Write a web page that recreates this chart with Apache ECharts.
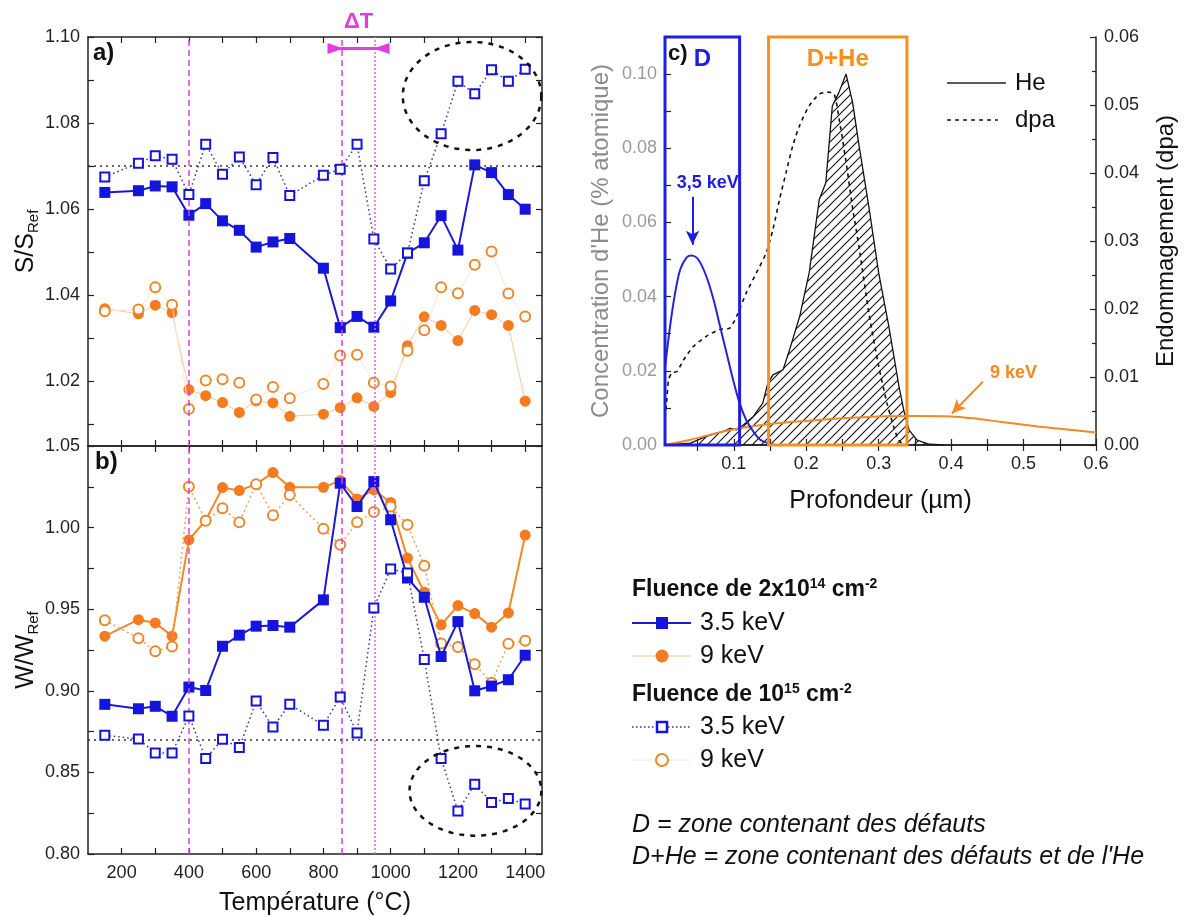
<!DOCTYPE html>
<html><head><meta charset="utf-8">
<script src="https://cdn.jsdelivr.net/npm/echarts@6/dist/echarts.min.js"></script>
<style>html,body{margin:0;padding:0;background:#fff;}#c{width:1189px;height:917px;}</style>
</head><body><div id="c"></div>
<script>
// ---------- Panels a) and b) : temperatures ----------
const temps = [150,250,300,350,400,450,500,550,600,650,700,800,850,900,950,1000,1050,1100,1150,1200,1250,1300,1350,1400];
// S/S_Ref
const sF35 = [1.0639,1.0643,1.0654,1.0652,1.0586,1.0613,1.0573,1.0551,1.0512,1.0524,1.0532,1.0463,1.0325,1.0351,1.0326,1.0387,1.0498,1.0522,1.0585,1.0505,1.0703,1.0685,1.0634,1.0600];
const sO35 = [1.0675,1.0707,1.0724,1.0716,1.0634,1.0751,1.0681,1.0721,1.0657,1.0720,1.0632,1.0679,1.0693,1.0751,1.0531,1.0461,1.0498,1.0666,1.0775,1.0897,1.0868,1.0924,1.0897,1.0925];
const sF9  = [1.0369,1.0357,1.0377,1.0360,1.0181,1.0167,1.0151,1.0128,1.0155,1.0150,1.0119,1.0124,1.0139,1.0162,1.0142,1.0174,1.0283,1.0350,1.0330,1.0295,1.0365,1.0355,1.0330,1.0154];
const sO9  = [1.0363,1.0367,1.0419,1.0378,1.0136,1.0202,1.0205,1.0197,1.0158,1.0187,1.0161,1.0194,1.0260,1.0262,1.0197,1.0188,1.0271,1.0319,1.0419,1.0405,1.0471,1.0502,1.0404,1.0351];
// W/W_Ref
const wF35 = [0.8917,0.8890,0.8905,0.8844,0.9023,0.9002,0.9273,0.9341,0.9396,0.9400,0.9390,0.9557,1.0272,1.0129,1.0282,1.0048,0.9691,0.9573,0.9210,0.9424,0.9000,0.9029,0.9068,0.9218];
const wO35 = [0.8727,0.8705,0.8619,0.8619,0.8846,0.8585,0.8703,0.8652,0.8937,0.8778,0.8917,0.8789,0.8962,0.8742,0.9508,0.9746,0.9722,0.9192,0.8585,0.8263,0.8428,0.8316,0.8340,0.8306];
const wF9  = [0.9335,0.9436,0.9416,0.9335,0.9925,1.0045,1.0245,1.0227,1.0266,1.0337,1.0247,1.0247,1.0288,1.0176,1.0231,1.0154,0.9813,0.9604,0.9404,0.9522,0.9473,0.9390,0.9477,0.9954];
const wO9  = [0.9432,0.9322,0.9243,0.9271,1.0251,1.0042,1.0119,1.0033,1.0266,1.0076,1.0200,0.9993,0.9895,1.0033,1.0095,1.0129,1.0017,0.9767,0.9290,0.9269,0.9163,0.9049,0.9288,0.9306];
const sRef = 1.07, wRef = 0.868;
const vLines = [400, 855, 953];
const deltaT = [836, 973, 1.0973];
const ellipseA = [1242, 1.0863, 206, 0.01255];
const ellipseB = [1252, 0.8387, 196, 0.0275];
const tickT  = [200,300,400,500,600,700,800,900,1000,1100,1200,1300,1400];
const labelT = [200,400,600,800,1000,1200,1400];
const labelS = [1.02,1.04,1.06,1.08,1.10];
const tickS  = [1.01,1.02,1.03,1.04,1.05,1.06,1.07,1.08,1.09,1.10];

// ---------- Panel c) : depth profiles ----------
const he35Depth = [0.005,0.012,0.019,0.026,0.035,0.042,0.051,0.062,0.072,0.081,0.090,0.099,0.108,0.117,0.127,0.136,0.147,0.158,0.170];
const he35Conc  = [0.0207,0.032,0.041,0.0473,0.0506,0.0511,0.050,0.0455,0.0392,0.032,0.0248,0.0176,0.0113,0.0068,0.0036,0.0015,0.0005,0.0,0.0];
const he9Depth = [0.005,0.040,0.076,0.108,0.147,0.200,0.250,0.300,0.350,0.400,0.430,0.470,0.520,0.560,0.600];
const he9Conc  = [0.0,0.0014,0.0032,0.0045,0.0056,0.0065,0.0072,0.0077,0.0078,0.0077,0.0072,0.0062,0.0050,0.0042,0.0034];
const heDepth = [0.005,0.040,0.062,0.076,0.085,0.095,0.104,0.113,0.127,0.140,0.147,0.154,0.168,0.177,0.191,0.204,0.218,0.227,0.236,0.245,0.255,0.264,0.273,0.287,0.300,0.314,0.328,0.335,0.342,0.353,0.370,0.390];
const heConc  = [0.0,0.0005,0.0023,0.0032,0.0036,0.0045,0.0041,0.0054,0.0077,0.0113,0.0167,0.0189,0.0203,0.0257,0.0347,0.0464,0.0662,0.0707,0.0914,0.0950,0.1000,0.0923,0.0806,0.0635,0.0464,0.0320,0.0158,0.0090,0.0040,0.0013,0.0002,0.0];
const dpaDepth = [0.005,0.0068,0.010,0.0146,0.0214,0.0306,0.0443,0.0625,0.0808,0.0945,0.1037,0.1174,0.1311,0.1448,0.154,0.1631,0.1722,0.1814,0.1905,0.2042,0.218,0.2294,0.2385,0.2454,0.2545,0.2636,0.2727,0.2865,0.3002,0.3116,0.3207,0.3276,0.335];
const dpaVal   = [0.004,0.0057,0.0096,0.0106,0.0108,0.0125,0.0145,0.016,0.017,0.0172,0.0189,0.0224,0.0253,0.0283,0.0317,0.0361,0.0401,0.044,0.0469,0.0499,0.0516,0.0519,0.0516,0.0479,0.042,0.0351,0.0292,0.0194,0.0115,0.0061,0.0027,0.0007,0.0];
const boxD = [0.005, 0.108];
const boxDHe = [0.148, 0.339];
const labelDepth = [0.1,0.2,0.3,0.4,0.5,0.6];
const tickDepth = [0.05,0.1,0.15,0.2,0.25,0.3,0.35,0.4,0.45,0.5,0.55,0.6];
const labelConc = [0,0.02,0.04,0.06,0.08,0.10];
const tickConc = [0.01,0.02,0.03,0.04,0.05,0.06,0.07,0.08,0.09,0.10];

const FONT = "'Liberation Sans', Arial, sans-serif";
const BLUE = '#1414dc', ORANGE = '#f47b20', MAG = '#e03ce0';
const pairs = (xs, ys) => xs.map((x, i) => [x, ys[i]]);

// hatch pattern
const pc = document.createElement('canvas');
pc.width = 9; pc.height = 9;
const g = pc.getContext('2d');
g.strokeStyle = '#111'; g.lineWidth = 1.1;
g.beginPath(); g.moveTo(0, 9); g.lineTo(9, 0); g.moveTo(-1, 1); g.lineTo(1, -1); g.moveTo(8, 10); g.lineTo(10, 8); g.stroke();

const axLine = {show: true, lineStyle: {color: '#222', width: 1.5}};
const tickSt = {color: '#222', width: 1.2};
function xTA(grid, pos, extra) {
  return Object.assign({gridIndex: grid, type: 'value', position: pos, min: 100, max: 1450,
    axisLine: axLine, splitLine: {show: false},
    axisTick: {inside: true, length: 6, customValues: tickT, lineStyle: tickSt},
    axisLabel: {show: false}}, extra || {});
}
function ellipseRender(params, api) {
  const c = api.coord([api.value(0), api.value(1)]);
  const s = api.size([api.value(2), api.value(3)]);
  const pts = [];
  for (let k = 0; k <= 90; k++) { const a = k / 90 * 2 * Math.PI; pts.push([c[0] + s[0] * Math.cos(a), c[1] + s[1] * Math.sin(a)]); }
  return {type: 'polyline', shape: {points: pts}, style: {stroke: '#111', lineWidth: 2.5, lineDash: [5, 6], fill: null}};
}
const inward = 'path://M0,0 L10,0 L5,16 Z';
function vMarks(refY, withDT) {
  const d = [
    {xAxis: vLines[0], lineStyle: {color: MAG, type: [6, 4], width: 1.5}},
    {xAxis: vLines[1], lineStyle: {color: MAG, type: [6, 4], width: 1.5}},
    {xAxis: vLines[2], lineStyle: {color: '#ee5cee', type: [2, 2], width: 1.5}},
    {yAxis: refY, lineStyle: {color: '#333', type: [2, 4], width: 1.5}}
  ];
  if (withDT) d.push([
    {coord: [deltaT[0], deltaT[2]], symbol: inward, symbolSize: [11, 16],
     lineStyle: {color: MAG, width: 3, type: 'solid'},
     label: {show: true, position: 'middle', formatter: 'ΔT', color: MAG, fontSize: 22, fontWeight: 'bold', fontFamily: FONT, distance: 16}},
    {coord: [deltaT[1], deltaT[2]], symbol: inward, symbolSize: [11, 16]}
  ]);
  return {silent: true, symbol: 'none', label: {show: false}, animation: false, data: d};
}
function fourSeries(xi, yi, f35, o35, f9, o9, panelB, refY, ell) {
  return [
    {type: 'line', xAxisIndex: xi, yAxisIndex: yi, data: pairs(temps, f9), z: 2,
     symbol: 'circle', symbolSize: 11, showAllSymbol: true,
     lineStyle: panelB ? {color: '#f08a28', width: 2} : {color: '#f7c89a', width: 1},
     itemStyle: {color: ORANGE}},
    {type: 'line', xAxisIndex: xi, yAxisIndex: yi, data: pairs(temps, o9), z: 3,
     symbol: 'emptyCircle', symbolSize: 10, showAllSymbol: true,
     lineStyle: panelB ? {color: '#eba263', width: 1.5, type: [2, 3]} : {color: '#fbe6d2', width: 1},
     itemStyle: {color: '#e8892c', borderWidth: 1.8}},
    {type: 'line', xAxisIndex: xi, yAxisIndex: yi, data: pairs(temps, f35), z: 4,
     symbol: 'rect', symbolSize: 11, showAllSymbol: true,
     lineStyle: {color: '#1a1ad0', width: 2}, itemStyle: {color: BLUE},
     markLine: vMarks(refY, !panelB)},
    {type: 'line', xAxisIndex: xi, yAxisIndex: yi, data: pairs(temps, o35), z: 5,
     symbol: 'emptyRect', symbolSize: 9, showAllSymbol: true,
     lineStyle: {color: '#33339a', width: 1.5, type: [1.5, 3]},
     itemStyle: {color: BLUE, borderWidth: 2}},
    {type: 'custom', xAxisIndex: xi, yAxisIndex: yi, coordinateSystem: 'cartesian2d', silent: true, z: 6,
     data: [ell], renderItem: ellipseRender}
  ];
}

const chart = echarts.init(document.getElementById('c'), null, {renderer: 'canvas'});
const nameStyle = {fontSize: 25, color: '#111', fontFamily: FONT, lineHeight: 30,
  rich: {sub: {fontSize: 15, lineHeight: 15, verticalAlign: 'bottom', fontFamily: FONT, color: '#111'}}};
const labSt = {fontSize: 18, color: '#222', fontFamily: FONT};

const option = {
  animation: false,
  backgroundColor: '#fff',
  textStyle: {fontFamily: FONT},
  grid: [
    {left: 88, top: 37, width: 454, height: 409},
    {left: 88, top: 446, width: 454, height: 409},
    {left: 665, top: 37, width: 431, height: 408}
  ],
  xAxis: [
    xTA(0, 'bottom'),
    xTA(0, 'top'),
    xTA(1, 'bottom', {axisLabel: Object.assign({show: true, customValues: labelT, margin: 10, formatter: v => String(v)}, labSt),
      name: 'Température (°C)', nameLocation: 'middle', nameGap: 37, nameTextStyle: {fontSize: 25, color: '#111', fontFamily: FONT}}),
    xTA(1, 'top'),
    {gridIndex: 2, type: 'value', position: 'bottom', min: 0.005, max: 0.6, axisLine: axLine, splitLine: {show: false},
     axisTick: {inside: true, length: 6, customValues: tickDepth, lineStyle: tickSt},
     axisLabel: Object.assign({customValues: labelDepth, margin: 10, formatter: v => v.toFixed(1)}, labSt),
     name: 'Profondeur (µm)', nameLocation: 'middle', nameGap: 44, nameTextStyle: {fontSize: 25, color: '#111', fontFamily: FONT}},
    {gridIndex: 2, type: 'value', position: 'top', min: 0.005, max: 0.6, axisLine: axLine, splitLine: {show: false},
     axisTick: {inside: true, length: 6, customValues: tickDepth, lineStyle: tickSt}, axisLabel: {show: false}}
  ],
  yAxis: [
    {gridIndex: 0, type: 'value', position: 'left', min: 1.005, max: 1.10, axisLine: axLine, splitLine: {show: false},
     axisTick: {inside: true, length: 6, customValues: tickS, lineStyle: tickSt},
     axisLabel: Object.assign({customValues: labelS, margin: 8, formatter: v => v.toFixed(2)}, labSt),
     name: 'S/S{sub|Ref}', nameLocation: 'middle', nameGap: 46, nameTextStyle: nameStyle},
    {gridIndex: 0, type: 'value', position: 'right', min: 1.005, max: 1.10, axisLine: axLine, splitLine: {show: false},
     axisTick: {inside: true, length: 6, customValues: tickS, lineStyle: tickSt}, axisLabel: {show: false}},
    {gridIndex: 1, type: 'value', position: 'left', min: 0.80, max: 1.05, interval: 0.05, axisLine: axLine, splitLine: {show: false},
     axisTick: {inside: true, length: 6, lineStyle: tickSt}, minorTick: {show: true, splitNumber: 2, length: 6, lineStyle: tickSt},
     axisLabel: Object.assign({margin: 8, formatter: v => v.toFixed(2)}, labSt),
     name: 'W/W{sub|Ref}', nameLocation: 'middle', nameGap: 46, nameTextStyle: nameStyle},
    {gridIndex: 1, type: 'value', position: 'right', min: 0.80, max: 1.05, interval: 0.05, axisLine: axLine, splitLine: {show: false},
     axisTick: {inside: true, length: 6, lineStyle: tickSt}, minorTick: {show: true, splitNumber: 2, length: 6, lineStyle: tickSt},
     axisLabel: {show: false}},
    {gridIndex: 2, type: 'value', position: 'left', min: 0, max: 0.11, axisLine: axLine, splitLine: {show: false},
     axisTick: {inside: true, length: 6, customValues: tickConc, lineStyle: tickSt},
     axisLabel: {customValues: labelConc, margin: 8, formatter: v => v.toFixed(2), fontSize: 18, color: '#9a9a9a', fontFamily: FONT},
     name: "Concentration d'He (% atomique)", nameLocation: 'middle', nameGap: 52,
     nameTextStyle: {fontSize: 24, color: '#8c8c8c', fontFamily: FONT}},
    {gridIndex: 2, type: 'value', position: 'right', min: 0, max: 0.06, interval: 0.01, axisLine: axLine, splitLine: {show: false},
     axisTick: {inside: true, length: 6, lineStyle: tickSt}, minorTick: {show: true, splitNumber: 2, length: 4, lineStyle: tickSt},
     axisLabel: Object.assign({margin: 8, formatter: v => v.toFixed(2)}, labSt),
     name: 'Endommagement (dpa)', nameLocation: 'middle', nameGap: 58,
     nameTextStyle: {fontSize: 24, color: '#111', fontFamily: FONT}}
  ],
  series: [].concat(
    fourSeries(0, 0, sF35, sO35, sF9, sO9, false, sRef, ellipseA),
    fourSeries(2, 2, wF35, wO35, wF9, wO9, true, wRef, ellipseB),
    [
      {type: 'line', xAxisIndex: 4, yAxisIndex: 4, data: pairs(heDepth, heConc), z: 2, symbol: 'none',
       lineStyle: {color: '#111', width: 1.3}, areaStyle: {color: {image: pc, repeat: 'repeat'}, opacity: 1}},
      {type: 'line', xAxisIndex: 4, yAxisIndex: 5, data: pairs(dpaDepth, dpaVal), z: 3, symbol: 'none', smooth: 0.25,
       lineStyle: {color: '#111', width: 1.6, type: [4, 4]}},
      {type: 'line', xAxisIndex: 4, yAxisIndex: 4, data: pairs(he9Depth, he9Conc), z: 4, symbol: 'none', smooth: 0.3,
       lineStyle: {color: '#f08a24', width: 2}},
      {type: 'line', xAxisIndex: 4, yAxisIndex: 4, data: pairs(he35Depth, he35Conc), z: 6, symbol: 'none', smooth: 0.3,
       lineStyle: {color: '#2424d8', width: 2},
       markArea: {silent: true, z: 10, data: [
         [{name: 'D', xAxis: boxD[0], yAxis: 0, itemStyle: {color: 'rgba(0,0,0,0)', borderColor: '#1e1ee0', borderWidth: 3},
           label: {show: true, position: 'insideTop', distance: 12, color: '#1e1ee0', fontSize: 24, fontWeight: 'bold', fontFamily: FONT}},
          {xAxis: boxD[1], yAxis: 0.11}],
         [{name: 'D+He', xAxis: boxDHe[0], yAxis: 0, itemStyle: {color: 'rgba(0,0,0,0)', borderColor: '#f7901e', borderWidth: 3},
           label: {show: true, position: 'insideTop', distance: 12, color: '#f7901e', fontSize: 24, fontWeight: 'bold', fontFamily: FONT}},
          {xAxis: boxDHe[1], yAxis: 0.11}]
       ]},
       markLine: {silent: true, symbol: ['none', 'arrow'], symbolSize: [10, 14], label: {show: false}, data: [
         [{coord: [0.043, 0.0669], lineStyle: {color: '#1e1ee0', width: 2, type: 'solid'}}, {coord: [0.043, 0.0540]}],
         [{coord: [0.444, 0.0171], lineStyle: {color: '#f08a24', width: 2, type: 'solid'}}, {coord: [0.401, 0.0085]}]
       ]},
       markPoint: {silent: true, symbol: 'circle', symbolSize: 0, data: [
         {name: '3,5 keV', coord: [0.064, 0.0705], label: {show: true, position: 'inside', formatter: '{b}', color: '#1e1ee0', fontSize: 18, fontWeight: 'bold', fontFamily: FONT}},
         {name: '9 keV', coord: [0.486, 0.0193], label: {show: true, position: 'inside', formatter: '{b}', color: '#f08a24', fontSize: 18, fontWeight: 'bold', fontFamily: FONT}}
       ]}}
    ]
  ),
  graphic: [
    {type: 'text', x: 93, y: 53, style: {text: 'a)', font: 'bold 24px ' + FONT, fill: '#111', verticalAlign: 'middle'}},
    {type: 'text', x: 95, y: 462, style: {text: 'b)', font: 'bold 24px ' + FONT, fill: '#111', verticalAlign: 'middle'}},
    {type: 'text', x: 668, y: 54, style: {text: 'c)', font: 'bold 22px ' + FONT, fill: '#111', verticalAlign: 'middle'}},
    // He / dpa legend
    {type: 'line', shape: {x1: 947, y1: 83, x2: 1006, y2: 83}, style: {stroke: '#222', lineWidth: 1.6}},
    {type: 'text', x: 1015, y: 83, style: {text: 'He', font: '24px ' + FONT, fill: '#111', verticalAlign: 'middle'}},
    {type: 'line', shape: {x1: 947, y1: 120, x2: 998, y2: 120}, style: {stroke: '#222', lineWidth: 1.6, lineDash: [4, 4]}},
    {type: 'text', x: 1015, y: 120, style: {text: 'dpa', font: '24px ' + FONT, fill: '#111', verticalAlign: 'middle'}},
    // Fluence legend
    {type: 'text', x: 632, y: 590, style: {text: 'Fluence de 2x10{sup|14} cm{sup|-2}', font: 'bold 23px ' + FONT, fill: '#111', verticalAlign: 'middle', lineHeight: 26,
      rich: {sup: {font: 'bold 14px ' + FONT, fill: '#111', lineHeight: 13, verticalAlign: 'top'}}}},
    {type: 'line', shape: {x1: 632, y1: 623, x2: 691, y2: 623}, style: {stroke: '#1a1ad0', lineWidth: 2}},
    {type: 'rect', shape: {x: 656, y: 617, width: 12, height: 12}, style: {fill: BLUE}},
    {type: 'text', x: 700, y: 623, style: {text: '3.5 keV', font: '25px ' + FONT, fill: '#111', verticalAlign: 'middle'}},
    {type: 'line', shape: {x1: 632, y1: 656, x2: 691, y2: 656}, style: {stroke: '#f7c89a', lineWidth: 1}},
    {type: 'circle', shape: {cx: 662, cy: 656, r: 6.5}, style: {fill: ORANGE}},
    {type: 'text', x: 700, y: 656, style: {text: '9 keV', font: '25px ' + FONT, fill: '#111', verticalAlign: 'middle'}},
    {type: 'text', x: 632, y: 695, style: {text: 'Fluence de 10{sup|15} cm{sup|-2}', font: 'bold 23px ' + FONT, fill: '#111', verticalAlign: 'middle', lineHeight: 26,
      rich: {sup: {font: 'bold 14px ' + FONT, fill: '#111', lineHeight: 13, verticalAlign: 'top'}}}},
    {type: 'line', shape: {x1: 632, y1: 727, x2: 691, y2: 727}, style: {stroke: '#33339a', lineWidth: 1.5, lineDash: [1.5, 2.5]}},
    {type: 'rect', shape: {x: 657, y: 722, width: 10, height: 10}, style: {fill: '#fff', stroke: BLUE, lineWidth: 2.5}},
    {type: 'text', x: 700, y: 727, style: {text: '3.5 keV', font: '25px ' + FONT, fill: '#111', verticalAlign: 'middle'}},
    {type: 'line', shape: {x1: 632, y1: 760, x2: 691, y2: 760}, style: {stroke: '#fbe6d2', lineWidth: 1}},
    {type: 'circle', shape: {cx: 662, cy: 760, r: 6}, style: {fill: '#fff', stroke: '#e8892c', lineWidth: 2}},
    {type: 'text', x: 700, y: 760, style: {text: '9 keV', font: '25px ' + FONT, fill: '#111', verticalAlign: 'middle'}},
    {type: 'text', x: 632, y: 825, style: {text: 'D = zone contenant des défauts', font: 'italic 25px ' + FONT, fill: '#111', verticalAlign: 'middle'}},
    {type: 'text', x: 632, y: 857, style: {text: "D+He = zone contenant des défauts et de l'He", font: 'italic 25px ' + FONT, fill: '#111', verticalAlign: 'middle'}}
  ]
};
chart.setOption(option);
</script>
</body></html>
